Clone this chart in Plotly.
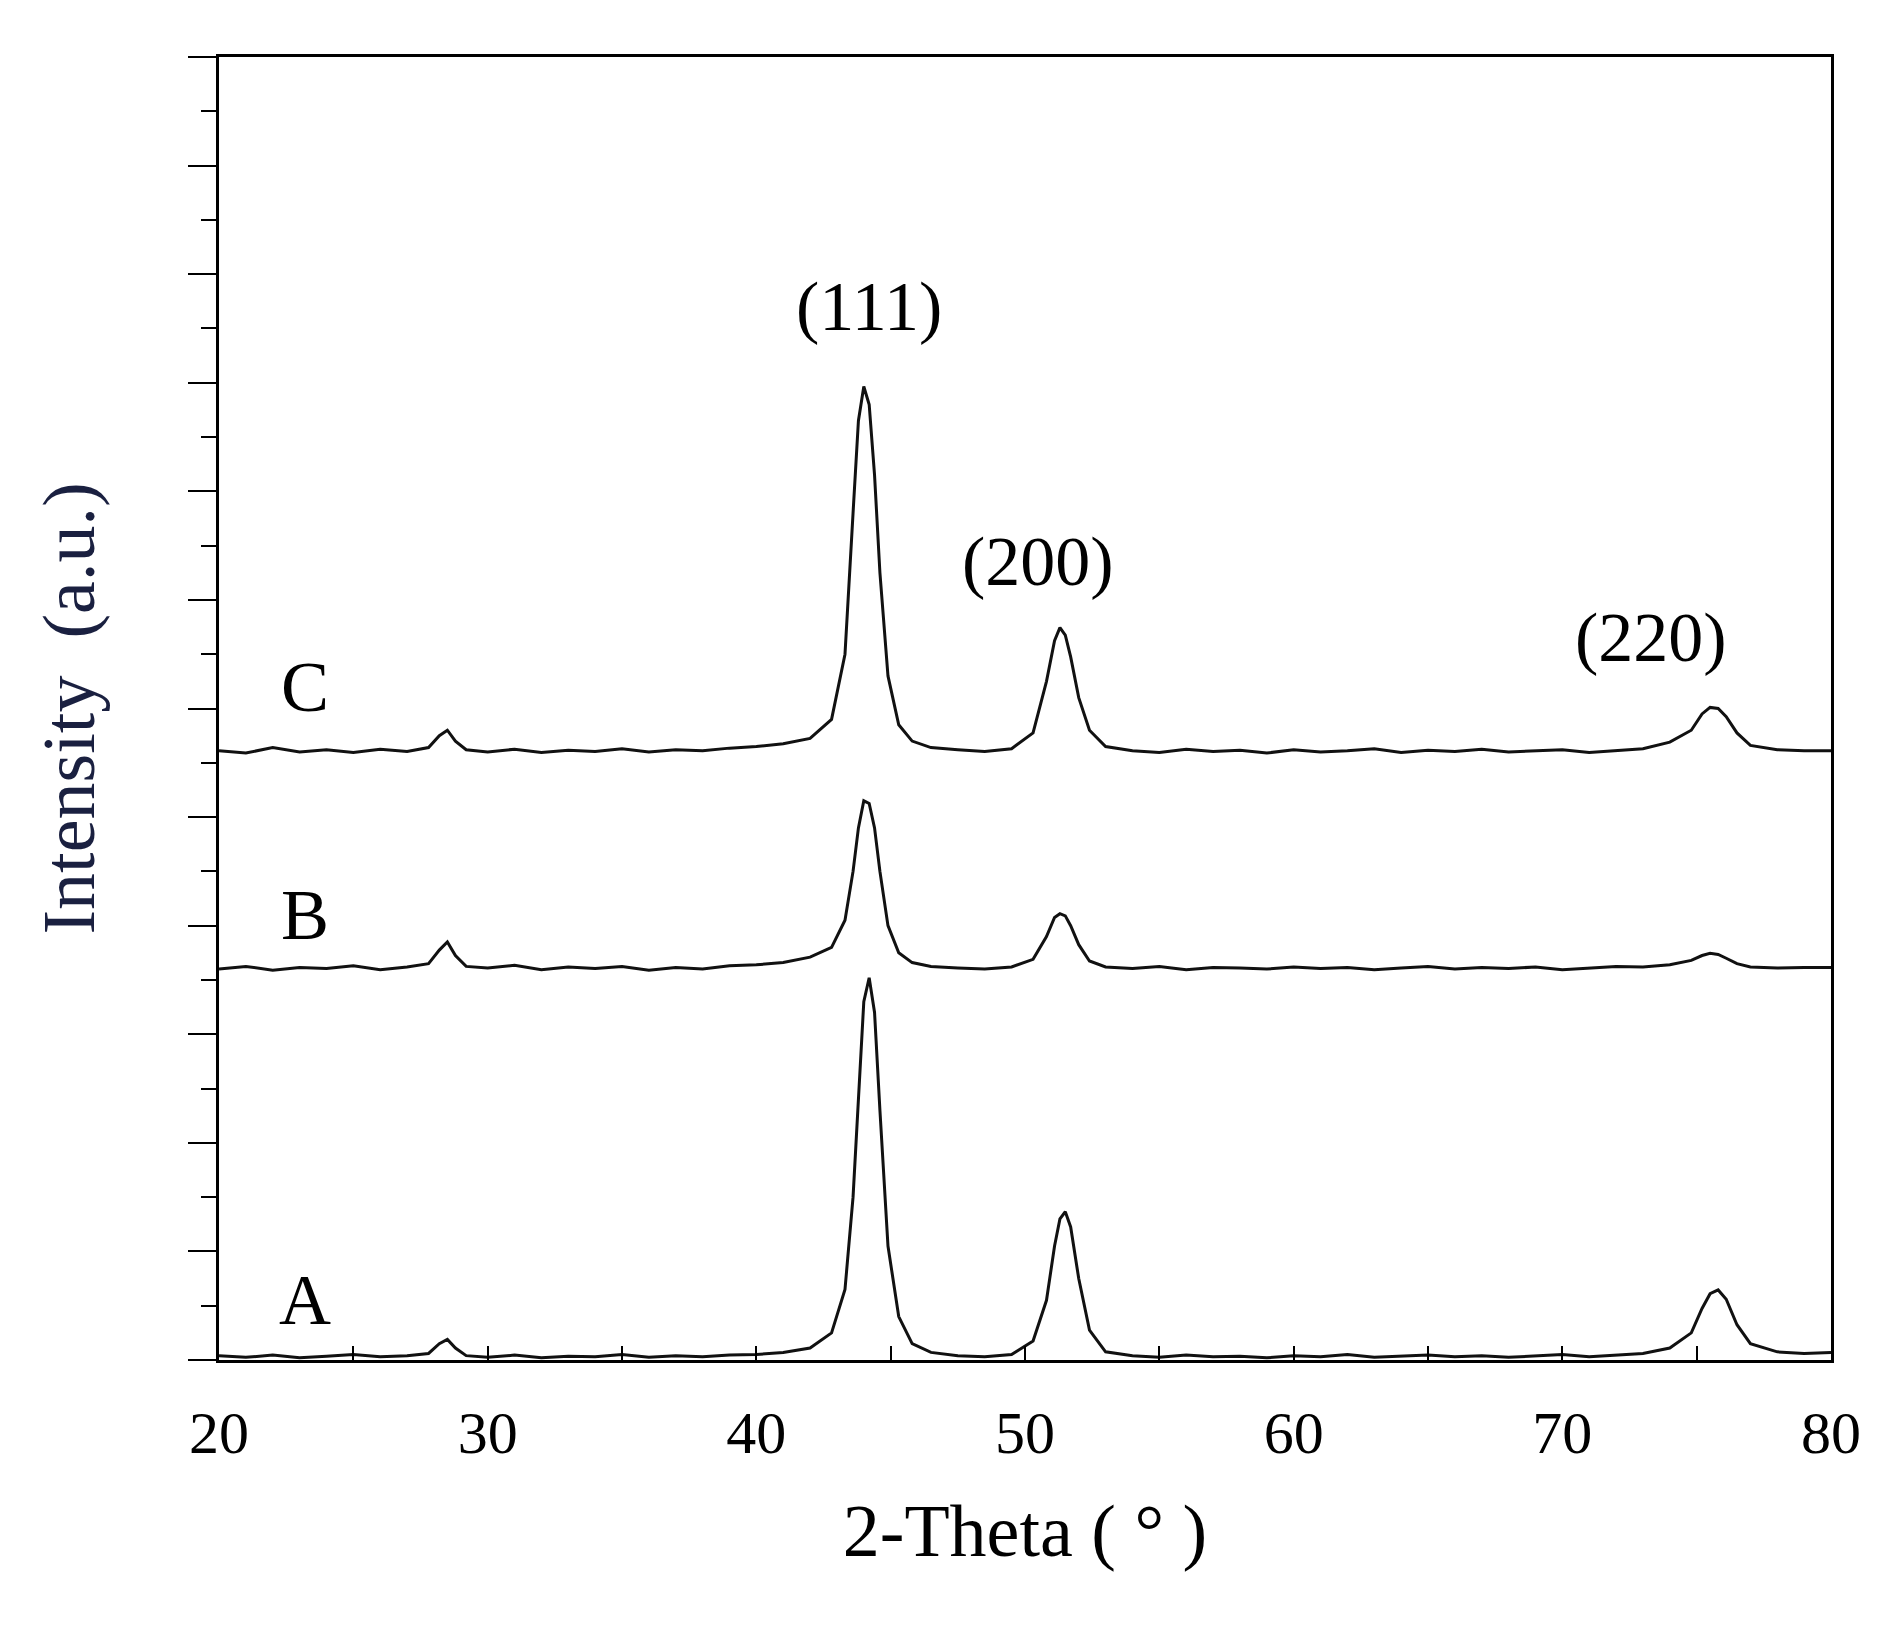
import plotly.graph_objects as go

# 2-theta grid (degrees)
two_theta = [20, 21, 22, 23, 24, 25, 26, 27, 27.8, 28.2, 28.5, 28.8, 29.2, 30, 31, 32, 33, 34, 35, 36, 37, 38,
             39, 40, 41, 42, 42.8, 43.3, 43.6, 43.8, 44.0, 44.2, 44.4, 44.6, 44.9, 45.3, 45.8, 46.5, 47.5, 48.5,
             49.5, 50.3, 50.8, 51.1, 51.3, 51.5, 51.7, 52.0, 52.4, 53.0, 54, 55, 56, 57, 58, 59, 60, 61, 62, 63,
             64, 65, 66, 67, 68, 69, 70, 71, 72, 73, 74, 74.8, 75.2, 75.5, 75.8, 76.1, 76.5, 77, 78, 79, 80]

int_A = [0.08, 0.05, 0.09, 0.04, 0.07, 0.10, 0.06, 0.08,
         0.12, 0.30, 0.38, 0.22, 0.08,
         0.05, 0.09, 0.04, 0.07, 0.06, 0.10, 0.05, 0.08, 0.06, 0.09, 0.10, 0.14, 0.22,
         0.50, 1.3, 3.0, 4.9, 6.6, 7.04, 6.4, 4.6, 2.1, 0.8, 0.3, 0.14,
         0.08, 0.06, 0.10, 0.35, 1.1, 2.1, 2.6, 2.73, 2.45, 1.5, 0.55, 0.15,
         0.08, 0.05, 0.09, 0.06, 0.07, 0.04, 0.08, 0.06, 0.10, 0.05, 0.07, 0.09, 0.06, 0.08, 0.05, 0.07, 0.10,
         0.06, 0.09, 0.12, 0.22,
         0.5, 0.95, 1.22, 1.29, 1.12, 0.65, 0.3, 0.15, 0.12, 0.14]

int_B = [7.20, 7.25, 7.18, 7.23, 7.21, 7.26, 7.19, 7.24,
         7.30, 7.55, 7.70, 7.45, 7.25,
         7.22, 7.27, 7.19, 7.24, 7.21, 7.25, 7.18, 7.23, 7.20, 7.26, 7.28, 7.32, 7.42,
         7.6, 8.1, 9.0, 9.8, 10.3, 10.25, 9.8, 9.0, 8.0, 7.5, 7.32, 7.25,
         7.22, 7.20, 7.24, 7.38, 7.8, 8.15, 8.22, 8.18, 8.0, 7.65, 7.35, 7.24,
         7.21, 7.25, 7.19, 7.23, 7.22, 7.20, 7.24, 7.21, 7.23, 7.19, 7.22, 7.25, 7.20, 7.23, 7.21, 7.24, 7.19,
         7.22, 7.25, 7.24, 7.28,
         7.36, 7.45, 7.49, 7.47, 7.40, 7.30, 7.24, 7.22, 7.23, 7.23]

int_C = [11.22, 11.18, 11.28, 11.20, 11.24, 11.19, 11.25, 11.21,
         11.28, 11.50, 11.60, 11.40, 11.24,
         11.20, 11.25, 11.19, 11.23, 11.21, 11.26, 11.20, 11.24, 11.22, 11.27, 11.30, 11.35, 11.45,
         11.8, 13.0, 15.6, 17.3, 17.93, 17.6, 16.3, 14.5, 12.6, 11.7, 11.4, 11.28,
         11.24, 11.21, 11.26, 11.55, 12.5, 13.25, 13.49, 13.35, 12.95, 12.2, 11.6, 11.3,
         11.22, 11.19, 11.25, 11.21, 11.23, 11.18, 11.24, 11.20, 11.22, 11.26, 11.19, 11.23, 11.21, 11.25, 11.20,
         11.22, 11.24, 11.19, 11.23, 11.26, 11.38,
         11.6, 11.9, 12.02, 12.0, 11.85, 11.55, 11.32, 11.24, 11.22, 11.22]

peak_labels = ["(111)", "(200)", "(220)"]
peak_label_x = [44.2, 50.5, 73.3]
peak_label_y = [19.4, 14.7, 13.3]

sample_labels = ["A", "B", "C"]
sample_label_y = [1.1, 8.2, 12.4]

serif = "Liberation Serif"

fig = go.Figure()
for ys in [int_A, int_B, int_C]:
    fig.add_trace(go.Scatter(x=two_theta, y=ys, mode="lines",
                             line=dict(color="#111111", width=3), showlegend=False))

for t, x, y in zip(peak_labels, peak_label_x, peak_label_y):
    fig.add_annotation(x=x, y=y, text=t, showarrow=False, font=dict(family=serif, size=70, color="black"))
for t, y in zip(sample_labels, sample_label_y):
    fig.add_annotation(x=23.2, y=y, text=t, showarrow=False, font=dict(family=serif, size=72, color="black"))

fig.update_xaxes(range=[20, 80], tickvals=[20, 30, 40, 50, 60, 70, 80], ticks="inside", ticklen=14,
                 tickwidth=2, tickcolor="black", ticklabelstandoff=18,
                 minor=dict(dtick=5, ticks="inside", ticklen=14, tickwidth=2, tickcolor="black"),
                 showline=True, linecolor="black", linewidth=3, mirror=True, showgrid=False, zeroline=False,
                 tickfont=dict(family=serif, size=60, color="black"),
                 title=dict(text="2-Theta ( ° )", font=dict(family=serif, size=74, color="black"), standoff=40))
fig.update_yaxes(range=[0, 24], tickvals=list(range(0, 25, 2)), ticks="outside", ticklen=28, tickwidth=2,
                 tickcolor="black", showticklabels=False,
                 minor=dict(dtick=1, ticks="outside", ticklen=15, tickwidth=2, tickcolor="black"),
                 showline=True, linecolor="black", linewidth=3, mirror=True, showgrid=False, zeroline=False,
                 title=dict(text="Intensity  (a.u.)", font=dict(family=serif, size=74, color="#1a2040"),
                            standoff=70))

fig.update_layout(width=1900, height=1635, plot_bgcolor="white", paper_bgcolor="white",
                  margin=dict(l=211, r=77, t=49, b=283))

fig.write_html("out.html")
